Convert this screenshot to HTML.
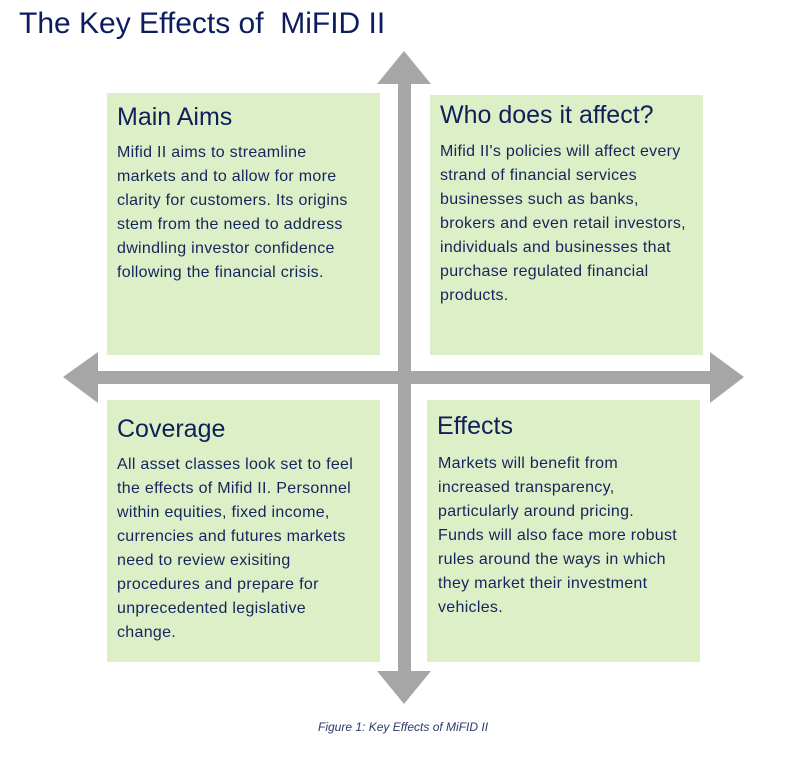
<!DOCTYPE html>
<html><head><meta charset="utf-8"><style>
body{margin:0;width:811px;height:768px;background:#fff;position:relative;overflow:hidden;font-family:"Liberation Sans",sans-serif;color:#14245e}
.box{position:absolute;background:#dcefc6}
.t{position:absolute;white-space:nowrap}
h2{position:absolute;margin:0;font-weight:normal;font-size:25px;white-space:nowrap;color:#0e1f5a}
p{position:absolute;margin:0;font-size:16px;letter-spacing:0.3px;line-height:24px;white-space:nowrap}
</style></head><body>
<div class="t" style="left:19px;top:7px;font-size:30px;color:#0c1d5e">The Key Effects of &nbsp;MiFID II</div>
<div class="box" style="left:107px;top:93px;width:273px;height:262px"></div>
<div class="box" style="left:430px;top:95px;width:273px;height:260px"></div>
<div class="box" style="left:107px;top:400px;width:273px;height:262px"></div>
<div class="box" style="left:427px;top:400px;width:273px;height:262px"></div>
<svg width="811" height="768" style="position:absolute;left:0;top:0">
<g fill="#a6a6a6">
<rect x="398" y="82" width="13" height="592"/>
<polygon points="404,51 431,84 377,84"/>
<polygon points="404,704 431,671 377,671"/>
<rect x="96" y="371" width="616" height="13"/>
<polygon points="63,377 98,352 98,403"/>
<polygon points="744,377 710,352 710,403"/>
</g></svg>
<h2 style="left:117px;top:103px">Main Aims</h2>
<p style="left:117px;top:141px">Mifid II aims to streamline<br>markets and to allow for more<br>clarity for customers. Its origins<br>stem from the need to address<br>dwindling investor confidence<br>following the financial crisis.</p>
<h2 style="left:440px;top:101px">Who does it affect?</h2>
<p style="left:440px;top:140px">Mifid II's policies will affect every<br>strand of financial services<br>businesses such as banks,<br>brokers and even retail investors,<br>individuals and businesses that<br>purchase regulated financial<br>products.</p>
<h2 style="left:117px;top:415px">Coverage</h2>
<p style="left:117px;top:453px">All asset classes look set to feel<br>the effects of Mifid II. Personnel<br>within equities, fixed income,<br>currencies and futures markets<br>need to review exisiting<br>procedures and prepare for<br>unprecedented legislative<br>change.</p>
<h2 style="left:437px;top:412px">Effects</h2>
<p style="left:438px;top:452px">Markets will benefit from<br>increased transparency,<br>particularly around pricing.<br>Funds will also face more robust<br>rules around the ways in which<br>they market their investment<br>vehicles.</p>
<div class="t" style="left:318px;top:720px;font-size:12px;font-style:italic;color:#2a3a6a">Figure 1: Key Effects of MiFID II</div>
</body></html>
